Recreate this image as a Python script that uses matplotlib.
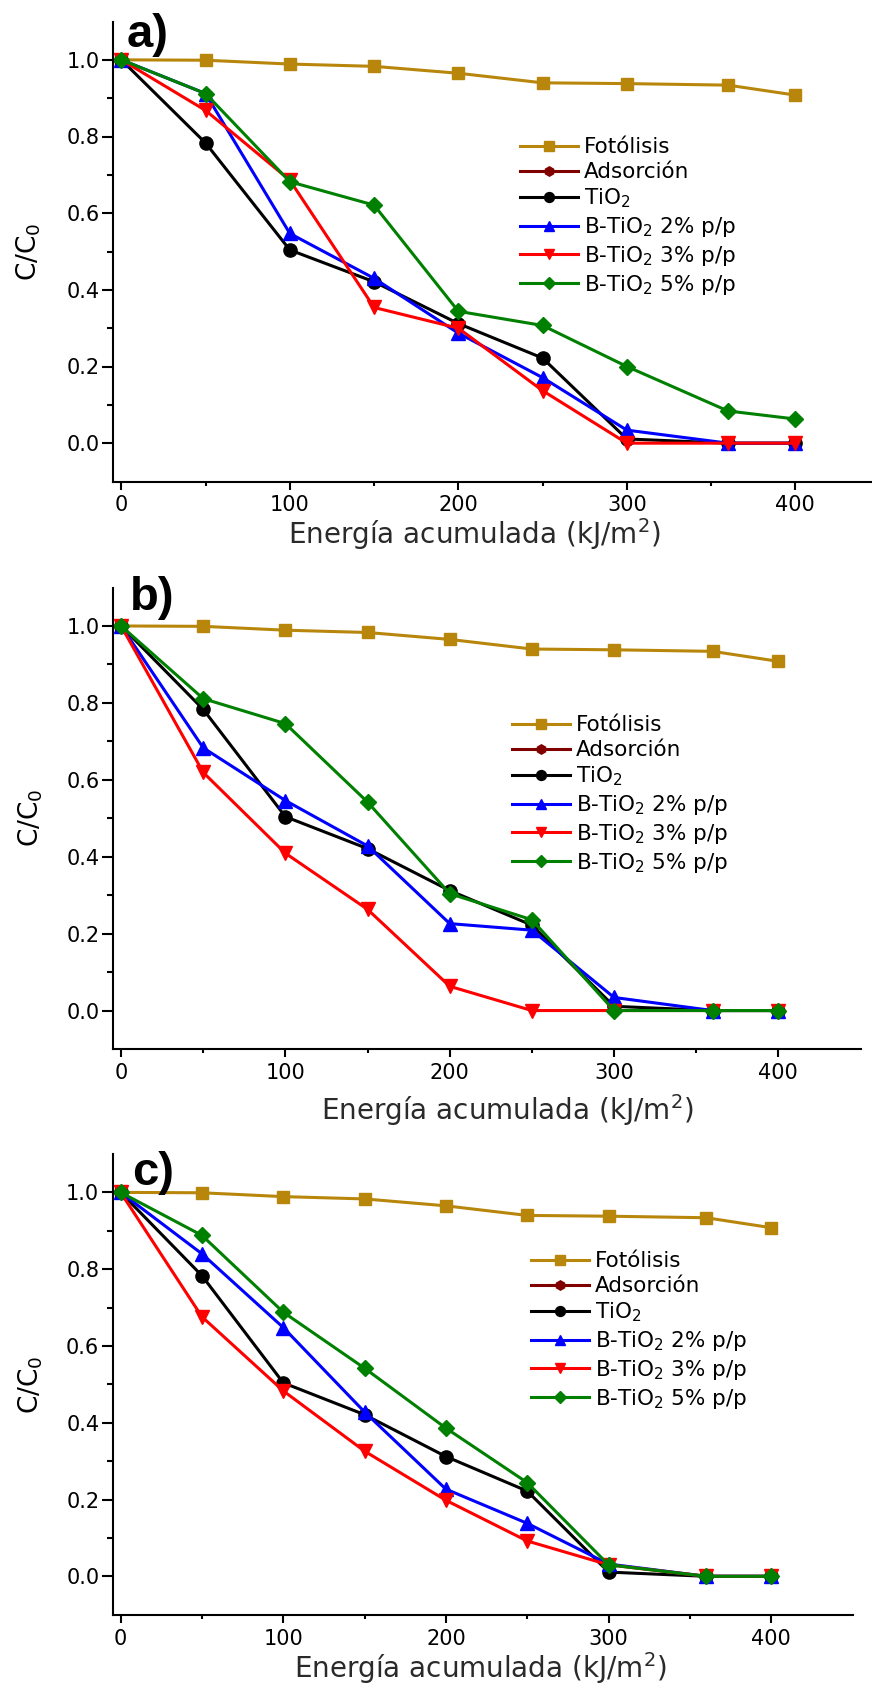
import matplotlib
matplotlib.use("Agg")

import matplotlib.pyplot as plt
from matplotlib.ticker import FixedLocator

# Three panels of C/C0 vs accumulated energy

energy = [0, 50, 100, 150, 200, 250, 300, 360, 400]
fotolisis = [1.0, 0.999, 0.989, 0.983, 0.965, 0.940, 0.938, 0.934, 0.908]
adsorcion_x = [0]
adsorcion = [1.0]
tio2 = [1.0, 0.783, 0.504, 0.421, 0.312, 0.222, 0.011, 0.0, 0.0]

# panel a
a_b2 = [1.0, 0.912, 0.547, 0.430, 0.287, 0.171, 0.034, 0.0, 0.0]
a_b3 = [1.0, 0.868, 0.686, 0.354, 0.300, 0.137, 0.0, 0.0, 0.0]
a_b5 = [1.0, 0.912, 0.682, 0.621, 0.344, 0.307, 0.200, 0.084, 0.063]
# panel b
b_b2 = [1.0, 0.683, 0.546, 0.428, 0.226, 0.209, 0.034, 0.0, 0.0]
b_b3 = [1.0, 0.619, 0.409, 0.263, 0.063, 0.0, 0.0, 0.0, 0.0]
b_b5 = [1.0, 0.811, 0.746, 0.542, 0.304, 0.236, 0.0, 0.0, 0.0]
# panel c
c_b2 = [1.0, 0.840, 0.648, 0.428, 0.227, 0.138, 0.032, 0.0, 0.0]
c_b3 = [1.0, 0.676, 0.483, 0.326, 0.198, 0.092, 0.030, 0.0, 0.0]
c_b5 = [1.0, 0.888, 0.688, 0.542, 0.386, 0.244, 0.030, 0.0, 0.0]

panel_letters = ["a)", "b)", "c)"]
labels = ["Fotólisis", "Adsorción", "TiO$_2$",
          "B-TiO$_2$ 2% p/p", "B-TiO$_2$ 3% p/p", "B-TiO$_2$ 5% p/p"]
xlabel = "Energía acumulada (kJ/m$^2$)"
ylabel = "C/C$_0$"

W, H = 872, 1687
plt.rcParams["font.family"] = ["DejaVu Sans"]
plt.rcParams["mathtext.fontset"] = "dejavusans"

fig = plt.figure(figsize=(W / 100, H / 100), dpi=100)

# pixel layout: left, top, width, height of each axes
rects = [(112.9, 21.5, 766.7, 460.0),
         (112.9, 587.5, 747.6, 461.5),
         (112.5, 1154.0, 740.0, 460.7)]
letter_pos = [(127, 35), (130, 598), (132.5, 1173)]
xlabel_pos = [(0.471, -0.114), (0.527, -0.132), (0.497, -0.116)]
legend_pos = [(520, 217), (512, 795), (531, 1331)]

series = [(a_b2, a_b3, a_b5), (b_b2, b_b3, b_b5), (c_b2, c_b3, c_b5)]

for i, (b2, b3, b5) in enumerate(series):
    l, t, w, h = rects[i]
    ax = fig.add_axes([l / W, 1 - (t + h) / H, w / W, h / H])

    ax.plot(energy, fotolisis, color="#B8860B", marker="s", ms=9, lw=2.2, label=labels[0])
    ax.plot(adsorcion_x, adsorcion, color="#800000", marker="h", ms=9, lw=2.2, label=labels[1])
    ax.plot(energy, tio2, color="black", marker="o", ms=9.5, lw=2.2, label=labels[2])
    ax.plot(energy, b2, color="#0000FF", marker="^", ms=10.5, lw=2.2, label=labels[3])
    ax.plot(energy, b3, color="#FF0000", marker="v", ms=10.5, lw=2.2, label=labels[4])
    ax.plot(energy, b5, color="#008000", marker="D", ms=8.5, lw=2.2, label=labels[5])

    ax.set_xlim(-5, 450)
    ax.set_ylim(-0.1, 1.1)
    ax.xaxis.set_major_locator(FixedLocator([0, 100, 200, 300, 400]))
    ax.xaxis.set_minor_locator(FixedLocator([50, 150, 250, 350]))
    ax.yaxis.set_major_locator(FixedLocator([0.0, 0.2, 0.4, 0.6, 0.8, 1.0]))
    ax.yaxis.set_minor_locator(FixedLocator([0.1, 0.3, 0.5, 0.7, 0.9]))
    ax.set_yticklabels(["0.0", "0.2", "0.4", "0.6", "0.8", "1.0"])

    for side in ["top", "right"]:
        ax.spines[side].set_visible(False)
    for side in ["left", "bottom"]:
        ax.spines[side].set_linewidth(1.5)

    ax.tick_params(axis="x", which="major", length=6, width=1.5, pad=4, labelsize=15)
    ax.tick_params(axis="x", which="minor", length=3, width=1.5)
    ax.tick_params(axis="y", which="major", length=8, width=1.5, pad=1.5, labelsize=15)
    ax.tick_params(axis="y", which="minor", length=4.3, width=1.5)

    ax.set_xlabel(xlabel, fontsize=20, color="#2a2a2a", va="center")
    ax.xaxis.set_label_coords(*xlabel_pos[i])
    ax.set_ylabel(ylabel, fontsize=19, va="center")
    ax.yaxis.set_label_coords(-0.11, 0.5)

    lx, ly = legend_pos[i]
    ax.legend(loc="center left", bbox_to_anchor=(lx / W, 1 - ly / H),
              bbox_transform=fig.transFigure, frameon=False, fontsize=15.5,
              borderpad=0, borderaxespad=0, handlelength=2.7,
              handletextpad=0.25, labelspacing=0.22, markerscale=0.75)

    px, py = letter_pos[i]
    fig.text(px / W, 1 - py / H, panel_letters[i], fontsize=34, fontweight="bold",
             family="Liberation Sans", ha="left", va="center")

fig.savefig("out.png", dpi=100)
